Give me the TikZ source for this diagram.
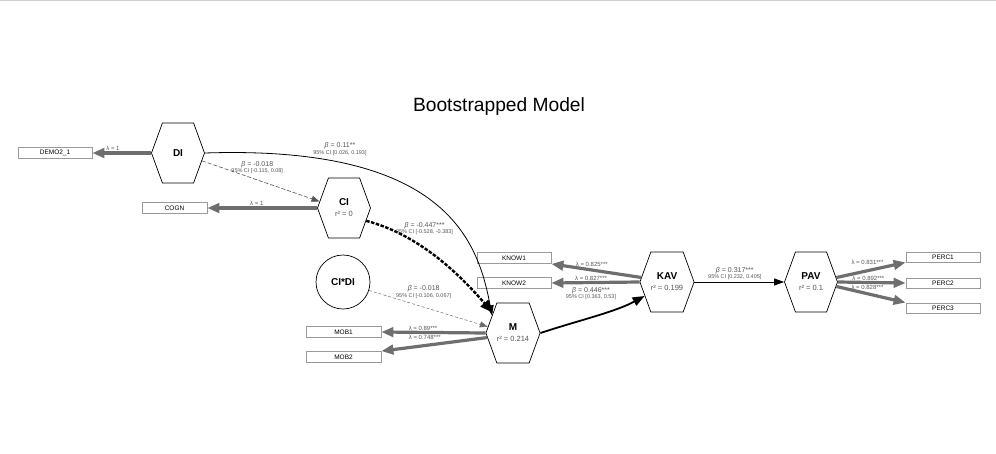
\documentclass[tikz,border=0pt]{standalone}
\usepackage{fontspec}
\setmainfont{Liberation Sans}
\usepackage{tikz}
\usetikzlibrary{arrows.meta,shapes.geometric,shapes.symbols,calc}
\definecolor{ldgrey}{HTML}{6E6E6E}
\definecolor{txtgrey}{HTML}{555555}
\definecolor{boxgrey}{HTML}{9A9A9A}
\definecolor{rulegrey}{HTML}{CFCFCF}
\newcommand{\rsq}[1]{{\fontsize{7.5}{8}\selectfont\mdseries\color{txtgrey}r² = #1}}
\newcommand{\est}[2]{\textit{β} = #1\\[-1.5pt]{\fontsize{5.5}{6}\selectfont 95\% CI [#2]}}
\tikzset{
  hexa/.style={signal, signal to=east and west, signal pointer angle=140,
               draw=black, line width=0.7pt, fill=white, minimum width=53pt,
               minimum height=60pt, inner sep=0pt, align=center,
               font=\fontsize{10}{11}\selectfont\bfseries},
  intr/.style={circle, draw=black, line width=0.7pt, fill=white,
               minimum size=54pt, inner sep=0pt,
               font=\fontsize{10}{11}\selectfont\bfseries},
  ind/.style={rectangle, draw=boxgrey, line width=0.8pt, fill=white,
              minimum width=74pt, minimum height=11pt, inner sep=0pt,
              font=\fontsize{6.5}{7}\selectfont},
  ld/.style={-{Triangle[length=12pt,width=9.5pt]}, line width=3.2pt, draw=ldgrey},
  pth/.style={-{Triangle[length=10pt,width=7pt]}, line width=0.8pt, draw=black},
  pthb/.style={-{Triangle[length=12pt,width=9pt]}, line width=1.8pt, draw=black},
  dot/.style={-{Triangle[length=13pt,width=10pt]}, line width=2.4pt, draw=black,
              dash pattern=on 3.5pt off 1.5pt},
  dsh/.style={-{Triangle[length=8pt,width=6pt]}, line width=0.6pt, draw=txtgrey,
              dash pattern=on 4pt off 2pt},
  dshl/.style={-{Triangle[length=8pt,width=6pt]}, line width=0.5pt, draw=ldgrey,
               dash pattern=on 3pt off 2pt},
  lbl/.style={font=\fontsize{7}{8}\selectfont, color=txtgrey, inner sep=0.5pt, align=center},
  lam/.style={font=\fontsize{6}{6.5}\selectfont, color=txtgrey, inner sep=0.5pt},
  ttl/.style={font=\fontsize{19.2}{22}\selectfont, inner sep=0pt},
}
\begin{document}
\begin{tikzpicture}[x=1pt, y=-1pt]
  \useasboundingbox (0,0) rectangle (996,453);
  \draw[rulegrey, line width=1pt] (0,0.5) -- (996,0.5);
  \node[ttl] (title) at (499,107) {Bootstrapped Model};

  % latent variables
  \node[hexa] (di) at (178,153) {DI};
  \node[hexa] (ci) at (344,208) {CI\\\rsq{0}};
  \node[intr] (cidi) at (343,282) {CI*DI};
  \node[hexa] (m) at (513,333) {M\\\rsq{0.214}};
  \node[hexa] (kav) at (667,282) {KAV\\\rsq{0.199}};
  \node[hexa] (pav) at (811,282) {PAV\\\rsq{0.1}};

  % indicators
  \node[ind] (demo) at (55,153) {DEMO2\_1};
  \node[ind, minimum width=65pt] (cogn) at (174.5,208) {COGN};
  \node[ind] (know1) at (514,258) {KNOW1};
  \node[ind] (know2) at (514,283) {KNOW2};
  \node[ind, minimum width=75pt] (mob1) at (343.5,332) {MOB1};
  \node[ind, minimum width=75pt] (mob2) at (343.5,357) {MOB2};
  \node[ind, minimum height=10pt] (perc1) at (943,257) {PERC1};
  \node[ind, minimum height=10pt] (perc2) at (943,283) {PERC2};
  \node[ind, minimum height=10pt] (perc3) at (943,308) {PERC3};

  % loadings
  \draw[ld] (di.west) -- node[lam, pos=0.65, above] (l-demo) {λ = 1} (demo.east);
  \draw[ld] (ci.west) -- node[lam, pos=0.55, above] (l-cogn) {λ = 1} (cogn.east);
  \draw[ld] (m.west) -- node[lam, pos=0.6, above] (l-mob1) {λ = 0.89***} (mob1.east);
  \draw[ld] (m.190) -- node[lam, pos=0.59, above=4pt] (l-mob2) {λ = 0.748***} (mob2.north east);
  \draw[ld] (kav.170) -- node[lam, pos=0.55, above=1pt] (l-know1) {λ = 0.825***} (know1.south east);
  \draw[ld] (kav.west) -- node[lam, pos=0.55, above] (l-know2) {λ = 0.827***} (know2.east);
  \draw[ld] (pav.10) -- node[lam, pos=0.45, above=4pt] (l-perc1) {λ = 0.831***} (perc1.south west);
  \draw[ld] (pav.east) -- node[lam, pos=0.45, above] (l-perc2) {λ = 0.892***} (perc2.west);
  \draw[ld] (pav.-10) -- node[lam, pos=0.45, above=2pt] (l-perc3) {λ = 0.828***} (perc3.north west);

  % structural paths
  \draw[dsh] (di.-18) -- node[lbl, pos=0.47, above=5pt] (l-dici) {\est{-0.018}{-0.115, 0.08}} (ci.165);
  \draw[pth] (di.east) .. controls (445,145) and (478,240) .. node[lbl, pos=0.23, above=6pt] (l-dim) {\est{0.11**}{0.026, 0.193}} (m.140);
  \draw[dot] (ci.-30) .. controls (420,235) and (460,275) .. node[lbl, pos=0.4, above=12pt] (l-cim) {\est{-0.447***}{-0.528, -0.383}} (m.135);
  \draw[dshl] (cidi.-18) -- node[lbl, pos=0.46, above=8pt] (l-cidim) {\est{-0.018}{-0.106, 0.067}} (m.166);
  \draw[pthb] (m.east) .. controls (580,320) and (615,312) .. node[lbl, pos=0.45, above=16pt] (l-mkav) {\est{0.446***}{0.363, 0.53}} (kav.212);
  \draw[pth] (kav.east) -- node[lbl, pos=0.45, above=1pt] (l-kavpav) {\est{0.317***}{0.232, 0.405}} (pav.west);
\end{tikzpicture}
\end{document}
